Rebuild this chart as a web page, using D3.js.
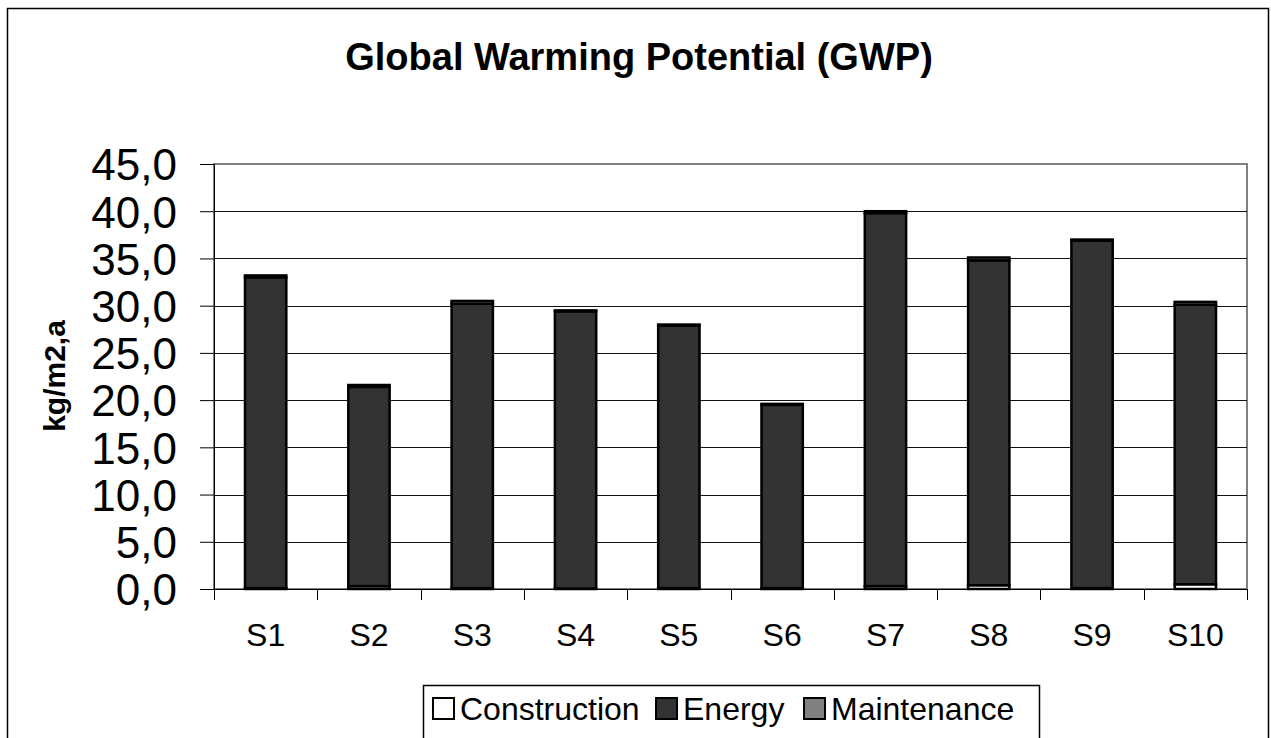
<!DOCTYPE html>
<html><head><meta charset="utf-8">
<script src="https://cdn.jsdelivr.net/npm/d3@7"></script>
<style>html,body{margin:0;padding:0;background:#fff;}svg{display:block;font-family:Arial,"Liberation Sans",sans-serif;}</style>
</head><body>
<svg id="c" width="1271" height="738"></svg>
<script>
const categories = ["S1","S2","S3","S4","S5","S6","S7","S8","S9","S10"];
const construction = [0.1,0.3,0.1,0.05,0.1,0.1,0.3,0.4,0.1,0.5];
const energy = [32.9,21.1,30.1,29.35,27.8,19.4,39.5,34.4,36.8,29.6];
const maintenance = [0.2,0.2,0.3,0.1,0.1,0.1,0.2,0.3,0.1,0.3];
const seriesNames = ["Construction","Energy","Maintenance"];
const seriesColors = ["#ffffff","#333333","#808080"];
const yTicks = [0,5,10,15,20,25,30,35,40,45];

const FONT = "Arial,'Liberation Sans',sans-serif";
const svg = d3.select("#c");
const W = 1271, H = 738;
svg.append("rect").attr("x",7.5).attr("y",8.5).attr("width",1261).attr("height",H).attr("fill","#fff").attr("stroke","#000").attr("stroke-width",1.5);

const m = {l:214, r:1247, t:164, b:589};
const x = d3.scaleBand().domain(categories).range([m.l,m.r]).paddingInner(0.6).paddingOuter(0.3);
const xb = d3.scaleBand().domain(categories).range([m.l,m.r]);
const y = d3.scaleLinear().domain([0,45]).range([m.b,m.t]);

// plot area border
svg.append("rect").attr("x",m.l).attr("y",m.t).attr("width",m.r-m.l).attr("height",m.b-m.t).attr("fill","none").attr("stroke","#808080").attr("stroke-width",2);

// gridlines
svg.append("g").selectAll("line").data(yTicks.filter(d=>d>0&&d<45)).join("line")
  .attr("x1",m.l).attr("x2",m.r).attr("y1",d=>Math.round(y(d))+0.5).attr("y2",d=>Math.round(y(d))+0.5)
  .attr("stroke","#111").attr("stroke-width",1);

// y axis
const yAxis = d3.axisLeft(y).tickValues(yTicks).tickSize(14).tickPadding(23).tickFormat(d=>d3.format(".1f")(d).replace(".",","));
const gy = svg.append("g").attr("transform",`translate(${m.l},0)`).call(yAxis);
gy.attr("font-family",FONT);
gy.select(".domain").attr("stroke","#000");
gy.selectAll(".tick line").attr("stroke","#000");
gy.selectAll("text").attr("font-size",44).attr("fill","#000").attr("dy","0.36em");

// x axis
const gx = svg.append("g").attr("transform",`translate(0,${m.b})`);
gx.append("line").attr("x1",m.l).attr("x2",m.r).attr("y1",0.5).attr("y2",0.5).attr("stroke","#000");
gx.selectAll("line.t").data(categories.concat(["end"])).join("line").attr("class","t")
  .attr("x1",(d,i)=>Math.round(m.l+i*xb.bandwidth())+0.5).attr("x2",(d,i)=>Math.round(m.l+i*xb.bandwidth())+0.5)
  .attr("y1",0).attr("y2",11).attr("stroke","#000");
gx.selectAll("text").data(categories).join("text")
  .attr("x",d=>xb(d)+xb.bandwidth()/2).attr("y",57).attr("text-anchor","middle")
  .attr("font-size",32).attr("fill","#000").text(d=>d);

// stacked bars
const rows = categories.map((c,i)=>({cat:c,Construction:construction[i],Energy:energy[i],Maintenance:maintenance[i]}));
const stack = d3.stack().keys(seriesNames)(rows);
svg.append("g").selectAll("g").data(stack).join("g")
  .attr("fill",(d,i)=>seriesColors[i])
  .selectAll("rect").data(d=>d).join("rect")
  .attr("x",d=>x(d.data.cat)).attr("width",x.bandwidth())
  .attr("y",d=>y(d[1])).attr("height",d=>Math.max(0,y(d[0])-y(d[1])))
  .attr("stroke","#000").attr("stroke-width",2.5);

// title
svg.append("text").attr("x",639).attr("y",70).attr("text-anchor","middle").attr("font-size",38).attr("font-weight","bold").attr("fill","#000").text("Global Warming Potential (GWP)");

// y label
svg.append("text").attr("transform","translate(65,376) rotate(-90)").attr("text-anchor","middle").attr("font-size",30).attr("font-weight","bold").attr("fill","#000").text("kg/m2,a");

// legend
const lg = svg.append("g");
lg.append("rect").attr("x",423.5).attr("y",685.5).attr("width",616).attr("height",70).attr("fill","#fff").attr("stroke","#000").attr("stroke-width",1.5);
const legX = [433, 656, 804];
seriesNames.forEach((s,i)=>{
  lg.append("rect").attr("x",legX[i]).attr("y",698).attr("width",21).attr("height",21).attr("fill",seriesColors[i]).attr("stroke","#000").attr("stroke-width",2);
  lg.append("text").attr("x",legX[i]+27).attr("y",720).attr("font-size",32).attr("fill","#000").text(s);
});
</script>
</body></html>
